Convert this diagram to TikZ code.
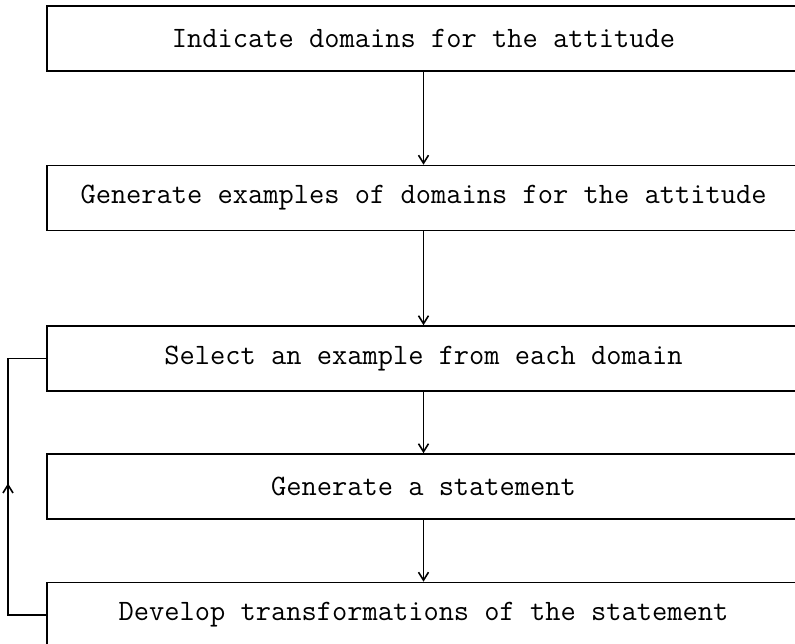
\documentclass[tikz,border=0pt]{standalone}
\usepackage{tikz}
\usetikzlibrary{arrows.meta,decorations.markings}

\tikzset{
    stepbox/.style={draw, rectangle, line width=0.8pt, minimum width=376.5pt,
        minimum height=32.5pt, inner sep=0pt,
        font=\fontsize{14.8}{18}\selectfont\ttfamily},
    flow/.style={line width=0.8pt, -{Straight Barb[length=4pt,width=5pt]}},
    loopback/.style={line width=0.8pt, postaction={decorate},
        decoration={markings, mark=at position 0.51 with
            {\arrow{Straight Barb[length=4pt,width=5pt]}}}}
}

\begin{document}
\begin{tikzpicture}[x=0.5pt, y=-0.5pt]

\useasboundingbox (0,0) rectangle (795,643);
\clip (0,0) rectangle (795,643);

\node[stepbox] (indicate)  at (423.5,38.5) {Indicate domains for the attitude};
\node[stepbox] (examples)  at (423.5,198)  {Generate examples of domains for the attitude};
\node[stepbox] (select)    at (423.5,358.5) {Select an example from each domain};
\node[stepbox] (statement) at (423.5,486.5) {Generate a statement};
\node[stepbox] (transform) at (423.5,615)  {Develop transformations of the statement};

\foreach \a/\b in {indicate/examples, examples/select, select/statement, statement/transform}
    \draw[flow] (\a) -- (\b);

% back to the selection step
\coordinate (loopbot) at (8,615);
\coordinate (looptop) at (8,358.5);
\draw[loopback] (transform.west) -- (loopbot) -- (looptop) -- (select.west);

\end{tikzpicture}
\end{document}
